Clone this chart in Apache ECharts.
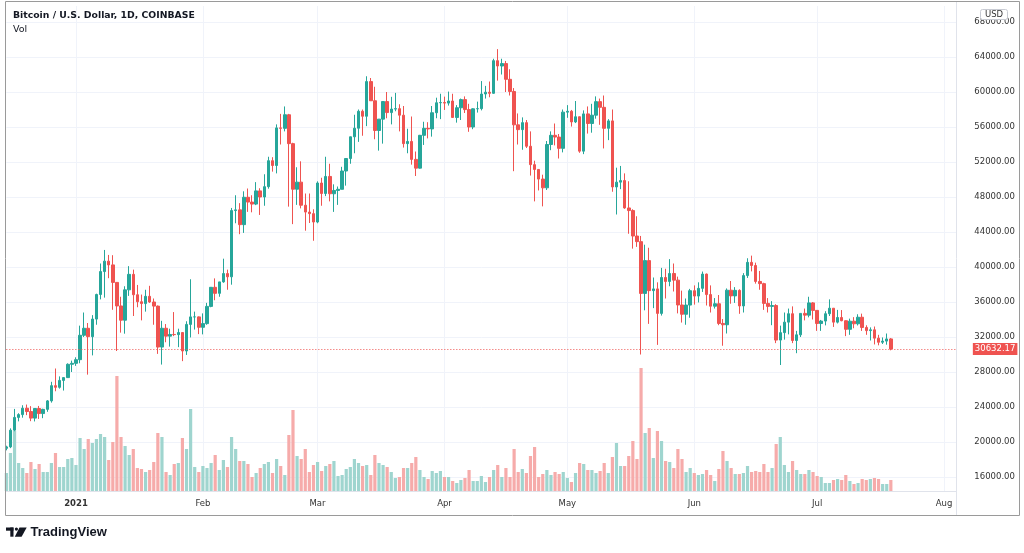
<!DOCTYPE html>
<html>
<head>
<meta charset="utf-8">
<script src="https://cdn.jsdelivr.net/npm/echarts@6/dist/echarts.min.js"></script>
<style>
html,body{margin:0;padding:0;background:#ffffff;}
#chart{width:1024px;height:553px;}
</style>
</head>
<body>
<div id="chart"></div>
<script>
// ---------------- DATA (BTC/USD daily, Coinbase, 2020-12-15 .. 2021-07-19) ----------------
const firstDay = '2020-12-15';
const lastAxisDay = '2021-08-04';
const chartTitle = 'Bitcoin / U.S. Dollar, 1D, COINBASE';
const volumeLegend = 'Vol';
const currencyLabel = 'USD';
const monthNames = ['Jan','Feb','Mar','Apr','May','Jun','Jul','Aug','Sep','Oct','Nov','Dec'];
const priceAxisMin = 12000, priceAxisMax = 72000, priceAxisStep = 4000;
const lastPrice = 30632.17;

const opens = [
  // Dec 15-31
  19275,19440,21350,22810,23130,23860,23480,22730,23830,23250,23730,24700,26440,26250,27040,27360,28880,
  // Jan
  28990,29410,32200,33000,32040,34050,36860,39480,40670,40240,38240,35550,33920,37390,39160,36830,36030,35820,36650,36000,35530,30850,33000,32100,32290,32270,32510,30400,33440,34300,34300,
  // Feb
  33110,33530,35500,37680,36990,38300,39250,38880,46450,46530,44840,47970,47420,47190,48700,48000,49180,52150,51600,55900,55850,57400,54100,48890,49700,47060,46280,46100,
  // Mar
  45140,49600,48400,50350,48370,48750,48880,50970,52400,54880,55860,57800,57230,61190,59000,55600,56900,58910,57650,58050,58100,57350,54100,54350,52300,51300,55050,55850,55780,57630,58770,
  // Apr
  58800,58730,58970,57090,58200,59130,57990,56000,58080,58100,59770,59980,59850,63580,62970,63250,61450,60060,56250,55700,56500,53800,51700,51150,50050,49050,54000,55050,54850,53560,
  // May
  57700,57800,56580,57170,53240,57500,56400,57350,58900,58250,55850,56700,49150,49700,49880,46750,46450,43540,42900,36980,40730,37300,37500,34700,38800,38350,39260,38500,35660,34600,35650,
  // Jun
  37290,36680,37560,39190,36850,35520,35800,33550,33400,37350,36700,37330,35550,39020,40530,40170,38350,38100,35840,35500,35600,31650,32500,33700,34660,31600,32250,34700,34500,35900,
  // Jul 1-19
  35040,33540,33820,34660,35290,33700,34230,33860,32880,33810,33510,34260,33090,32730,32820,31870,31400,31530,31780
];
const highs = [
  19570,21560,23780,23290,24200,24280,24100,23850,24120,23800,24800,26880,28400,27500,27400,28990,29300,
  29680,33300,34800,33600,34500,36950,40400,41950,41380,41350,38260,36600,37800,40100,39700,37950,36850,37400,37850,36400,35600,33850,33480,32950,34850,32950,32560,33800,38600,34900,34350,
  34700,35900,37700,38700,38300,40950,39700,46750,48200,47300,48650,48970,48200,49700,49000,50600,52600,52550,56300,57500,58350,57500,54200,51400,52080,48400,48400,46600,
  49790,50200,52600,51800,49450,49200,51450,52400,54900,57400,58000,58000,61800,61600,60600,56900,58950,60000,59450,59900,58600,58400,55800,57200,53200,55100,56600,56550,58400,59350,59800,
  59470,60050,59800,58500,59250,59500,58650,58150,58900,61250,60700,61200,63800,64900,63800,63550,62600,60450,57550,57100,56800,55500,52150,51200,50550,54400,55500,56400,55200,58000,
  58500,57950,58970,57200,57900,58350,58650,59500,59250,59600,56900,58000,51350,51550,50700,49800,46600,45800,43550,42550,42200,38800,38250,39900,39800,40900,40400,38900,37300,36400,37500,
  37900,38250,39480,39250,37900,36450,36800,34050,37550,38400,37700,37450,39300,41000,41300,40500,39550,38200,36450,36100,35750,33300,34800,35250,35500,32700,34700,35250,36600,36000,
  35050,33950,34950,36300,35290,35100,35080,33900,34100,34270,34600,34670,33340,33100,33200,32250,31950,32400,31880
];
const lows = [
  19050,19300,21230,22360,22780,23070,22380,22350,22640,22720,23450,24500,25800,26100,25880,27330,28000,
  28700,29000,32000,27700,29900,33400,36300,36500,38720,35110,30400,32500,32380,36700,34400,35400,33900,34900,35900,33400,30070,28850,31400,30900,32100,30840,29240,29950,31950,32850,32330,
  32300,33400,35400,36200,36600,38200,37400,37980,45000,43750,43900,46300,46250,47070,45950,47000,48950,50900,50700,54000,55500,46900,44900,47100,46700,44150,45030,43000,
  45000,47000,48100,47500,46300,47100,48880,49300,51800,53000,54300,55000,56100,59000,54600,53300,54100,57000,56300,57800,55500,53650,53000,51700,50400,51250,53950,54700,54900,57000,56900,
  57950,58450,57050,56500,56800,57600,55450,55750,57650,57900,59250,59400,59800,61300,62000,60000,59600,50950,54000,53400,53600,50450,47500,48750,46930,48800,53350,53900,52400,53100,
  57050,56050,56450,53050,52900,55250,55350,56950,56250,53550,54500,48600,46000,48900,46650,43800,42100,42300,30000,35050,33500,35300,31100,34450,36400,37800,37200,34700,33650,33400,34200,
  35700,35950,37150,35600,34800,35250,33350,31000,32400,35800,35900,34650,34800,38750,39500,38100,37400,35100,34800,33350,31300,28800,31700,32300,31300,30150,32000,33900,34250,34000,
  32700,32700,33330,34400,33150,33550,33800,32100,32250,33000,33320,32700,32250,31600,31150,31050,31200,31120,30480
];
const closes = [
  19440,21350,22810,23130,23860,23480,22730,23830,23250,23730,24700,26440,26250,27040,27360,28880,28990,
  29410,32200,33000,32040,34050,36860,39480,40670,40240,38240,35550,33920,37390,39160,36830,36030,35820,36650,36000,35530,30850,33000,32100,32290,32270,32510,30400,33440,34300,34300,33110,
  33530,35500,37680,36990,38300,39250,38880,46450,46530,44840,47970,47420,47190,48700,48000,49180,52150,51600,55900,55850,57400,54100,48890,49700,47060,46280,46100,45140,
  49600,48400,50350,48370,48750,48880,50970,52400,54880,55860,57800,57230,61190,59000,55600,56900,58910,57650,58050,58100,57350,54100,54350,52300,51300,55050,55850,55780,57630,58770,58800,
  58730,58970,57090,58200,59130,57990,56000,58080,58100,59770,59980,59850,63580,62970,63250,61450,60060,56250,55700,56500,53800,51700,51150,50050,49050,54000,55050,54850,53560,57700,
  57800,56580,57170,53240,57500,56400,57350,58900,58250,55850,56700,49150,49700,49880,46750,46450,43540,42900,36980,40730,37300,37500,34700,38800,38350,39260,38500,35660,34600,35650,37290,
  36680,37560,39190,36850,35520,35800,33550,33400,37350,36700,37330,35550,39020,40530,40170,38350,38100,35840,35500,35600,31650,32500,33700,34660,31600,32250,34700,34500,35900,35040,
  33540,33820,34660,35290,33700,34230,33860,32880,33810,33510,34260,33090,32730,32820,31870,31400,31530,31780,30632.17
];
// volume, thousand BTC
const volumes = [
  18,38,60,28,23,18,29,22,27,19,19,28,38,24,24,32,33,
  26,53,42,52,48,52,57,54,31,49,115,54,45,36,42,23,22,19,21,29,58,54,19,16,27,28,53,42,82,24,19,
  25,23,28,36,21,31,24,54,42,30,30,27,14,18,23,27,29,18,32,25,16,56,81,35,32,42,19,26,
  29,20,25,27,30,15,16,22,24,32,28,25,26,16,36,28,26,24,19,13,14,23,23,28,34,21,14,12,20,18,20,
  14,14,10,8,11,13,21,10,10,15,9,14,21,26,14,23,14,42,19,22,18,35,44,14,17,21,16,19,17,19,
  13,9,18,28,27,21,21,18,20,28,18,34,48,25,25,35,50,32,123,58,63,33,60,50,30,29,23,42,32,19,23,
  18,16,17,21,16,10,22,40,30,23,17,17,18,25,19,20,19,27,19,23,47,54,26,19,30,21,17,17,21,19,
  15,14,8,8,11,12,11,16,10,7,8,12,11,12,13,12,7,7,11
];

// ---------------- BUILD ----------------
const dates = [];
(function () {
  const a = firstDay.split('-').map(Number), b = lastAxisDay.split('-').map(Number);
  const t0 = Date.UTC(a[0], a[1] - 1, a[2]), t1 = Date.UTC(b[0], b[1] - 1, b[2]);
  for (let t = t0; t <= t1; t += 86400000) dates.push(new Date(t).toISOString().slice(0, 10));
})();

const UP = '#26a69a', DOWN = '#ef5350';
const UP_VOL = '#9fd5cf', DOWN_VOL = '#f6abaa';
const FONT = 'DejaVu Sans';
const TEXT = '#333333';

const candleData = opens.map((o, i) => [o, closes[i], lows[i], highs[i]]);
const volData = volumes.map((v, i) => ({
  value: v,
  itemStyle: { color: closes[i] >= opens[i] ? UP_VOL : DOWN_VOL }
}));

const isMonthStart = (idx, val) => String(val).slice(8, 10) === '01';

const GL = 6.35, GR = 1024 - 956.35;

const chart = echarts.init(document.getElementById('chart'), null, { renderer: 'canvas' });
chart.setOption({
  animation: false,
  backgroundColor: '#ffffff',
  grid: [
    { left: GL, right: GR, top: -13, bottom: 41, containLabel: false, outerBoundsMode: 'none' },
    { left: GL, right: GR, top: 6, bottom: 62, containLabel: false, outerBoundsMode: 'none' }
  ],
  xAxis: [
    { type: 'category', gridIndex: 0, data: dates, boundaryGap: false, show: false },
    {
      type: 'category', gridIndex: 1, data: dates, boundaryGap: false,
      axisLine: { show: true, lineStyle: { color: '#e0e3eb', width: 1 } },
      axisTick: { show: false },
      axisLabel: {
        interval: isMonthStart,
        margin: 8,
        color: TEXT, fontSize: 8.5, fontFamily: FONT,
        formatter: (val) => {
          const m = +val.slice(5, 7) - 1;
          return m === 0 ? '{yr|' + val.slice(0, 4) + '}' : monthNames[m];
        },
        rich: { yr: { fontWeight: 'bold', fontSize: 8.5, fontFamily: FONT, color: TEXT } }
      },
      splitLine: { show: true, interval: isMonthStart, lineStyle: { color: '#f0f3fa', width: 1 } }
    }
  ],
  yAxis: [
    {
      type: 'value', gridIndex: 0, position: 'right',
      min: priceAxisMin, max: priceAxisMax, interval: priceAxisStep,
      axisLine: { show: false }, axisTick: { show: false },
      axisLabel: {
        showMinLabel: false, showMaxLabel: false,
        margin: 18, color: TEXT, fontSize: 8.5, fontFamily: FONT,
        formatter: (v) => v.toFixed(2)
      },
      splitLine: { show: true, showMinLine: false, showMaxLine: false, lineStyle: { color: '#f0f3fa', width: 1 } }
    },
    { type: 'value', gridIndex: 1, min: 0, max: 485, show: false, splitLine: { show: false } }
  ],
  series: [
    {
      type: 'bar', name: 'Vol', xAxisIndex: 1, yAxisIndex: 1,
      data: volData, barWidth: 3.2, silent: true
    },
    {
      type: 'candlestick', name: 'BTCUSD', xAxisIndex: 0, yAxisIndex: 0,
      data: candleData, barWidth: 3, silent: true,
      itemStyle: { color: UP, color0: DOWN, borderColor: UP, borderColor0: DOWN, borderWidth: 1 },
      markLine: {
        silent: true, symbol: ['none', 'none'], animation: false,
        data: [{ yAxis: lastPrice, lineStyle: { color: DOWN, type: [1, 2], width: 1, opacity: 1 } }],
        itemStyle: { color: DOWN },
        lineStyle: { color: DOWN, type: [1, 2], width: 1, opacity: 1 },
        label: {
          show: true, position: 'end', distance: 16.5,
          formatter: () => lastPrice.toFixed(2),
          color: '#ffffff', backgroundColor: DOWN, padding: [2, 2, 1, 2],
          fontSize: 8.5, fontFamily: FONT
        },
        emphasis: { disabled: true }
      }
    }
  ],
  graphic: [
    { type: 'rect', z: 100, shape: { x: 5.5, y: 1.5, width: 1014, height: 514 }, style: { fill: 'none', stroke: '#9a9a9a', lineWidth: 1 } },
    { type: 'line', z: 99, shape: { x1: 956.5, y1: 1.5, x2: 956.5, y2: 515.5 }, style: { stroke: '#e0e3eb', lineWidth: 1 } },
    { type: 'text', z: 100, style: { text: chartTitle, x: 13, y: 15.5, fontSize: 9.3, fontWeight: 'bold', fontFamily: FONT, fill: '#131722', verticalAlign: 'middle' } },
    { type: 'text', z: 100, style: { text: volumeLegend, x: 13, y: 30, fontSize: 9.5, fontFamily: FONT, fill: '#131722', verticalAlign: 'middle' } },
    { type: 'rect', z: 100, shape: { x: 980.5, y: 9.5, width: 27, height: 10, r: 2 }, style: { fill: '#ffffff', stroke: '#c8cbd3', lineWidth: 1 } },
    { type: 'text', z: 101, style: { text: currencyLabel, x: 994, y: 14.8, fontSize: 8.5, fontFamily: FONT, fill: TEXT, align: 'center', verticalAlign: 'middle' } },
    // TradingView logo
    { type: 'rect', z: 100, shape: { x: 6, y: 527.5, width: 7.5, height: 3.2 }, style: { fill: '#131722' } },
    { type: 'rect', z: 100, shape: { x: 10.3, y: 527.5, width: 3.2, height: 9.2 }, style: { fill: '#131722' } },
    { type: 'circle', z: 100, shape: { cx: 16.4, cy: 529.1, r: 1.6 }, style: { fill: '#131722' } },
    { type: 'polygon', z: 100, shape: { points: [[19.5, 527.5], [26.7, 527.5], [21.6, 536.7], [14.8, 536.7]] }, style: { fill: '#131722' } },
    { type: 'text', z: 100, style: { text: 'TradingView', x: 30.5, y: 532, fontSize: 13, fontWeight: 'bold', fontFamily: 'Liberation Sans', fill: '#131722', verticalAlign: 'middle' } }
  ]
});
</script>
</body>
</html>
